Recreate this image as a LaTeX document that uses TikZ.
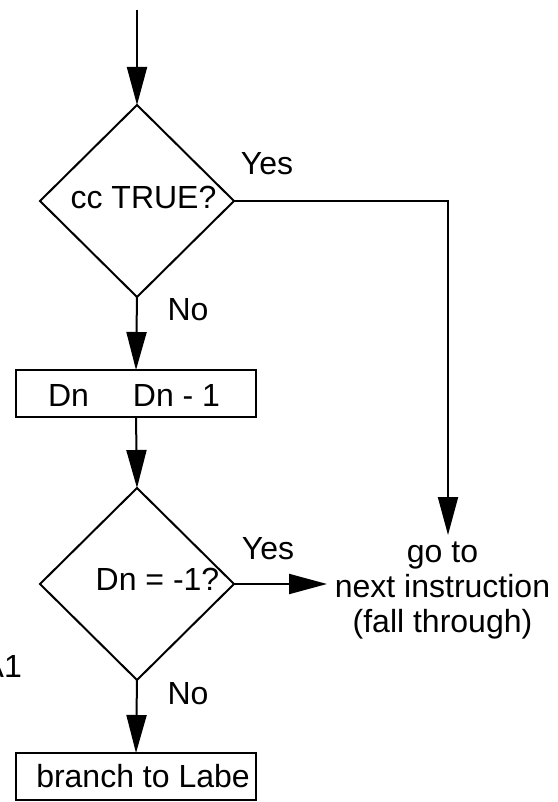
\documentclass[tikz,border=0pt]{standalone}
\usepackage{fontspec}
\setmainfont{Liberation Sans}
\usetikzlibrary{shapes.geometric,arrows.meta}

\tikzset{
  flow/.style={line width=2pt,-{Triangle[length=38pt,width=20pt]}},
  decision/.style={draw,line width=2pt,shape=diamond,inner sep=0pt,outer sep=0pt,
    minimum width=194pt,minimum height=192pt},
  stepbox/.style={draw,line width=2pt,rectangle,inner sep=0pt,outer sep=0pt,
    minimum width=240pt,minimum height=47pt},
  txt/.style={inner sep=0pt,font=\fontsize{32}{35}\selectfont,anchor=base},
}

\begin{document}
\begin{tikzpicture}[x=1pt,y=-1pt]
  \fill[white] (0,0) rectangle (557,802);
  \useasboundingbox (0,0) rectangle (557,802);

  % shapes
  \coordinate (start) at (137,10);
  \node[decision] (d1) at (137,201) {};
  \node[stepbox] (dec) at (136,393.5) {};
  \node[decision] (d2) at (137,584) {};
  \node[stepbox] (br) at (136,776.5) {};
  % multi-line node: its base anchor sits on the last line's baseline
  \node[txt,align=center] (dest) at (442.5,632) {go to\\next instruction\\(fall through)};

  % texts
  \node[txt] (d1t) at (143.5,208) {cc TRUE?};
  \node[txt] (y1) at (267,175) {Yes};
  \node[txt] (n1) at (188,320) {No};
  \node[txt] (decA) at (68.5,406) {Dn};
  \node[txt] (decB) at (176.5,406) {Dn - 1};
  \node[txt] (d2t) at (157.5,590) {Dn = -1?};
  \node[txt] (y2) at (268,559) {Yes};
  \node[txt] (n2) at (188,704) {No};
  \node[txt] (brt) at (143,787) {branch to Labe};
  \node[txt,anchor=base east] (a1) at (22,677) {A1};

  % connectors
  \coordinate (destin) at (448,535);
  \coordinate (destleft) at (327,584);
  \draw[flow] (start) -- (d1.north);
  \draw[flow] (d1.south) -- (dec.north);
  \draw[flow] (dec.south) -- (d2.north);
  \draw[flow] (d2.south) -- (br.north);
  \draw[flow] (d1.east) -| (destin);
  \draw[flow] (d2.east) -- (destleft);
\end{tikzpicture}
\end{document}
